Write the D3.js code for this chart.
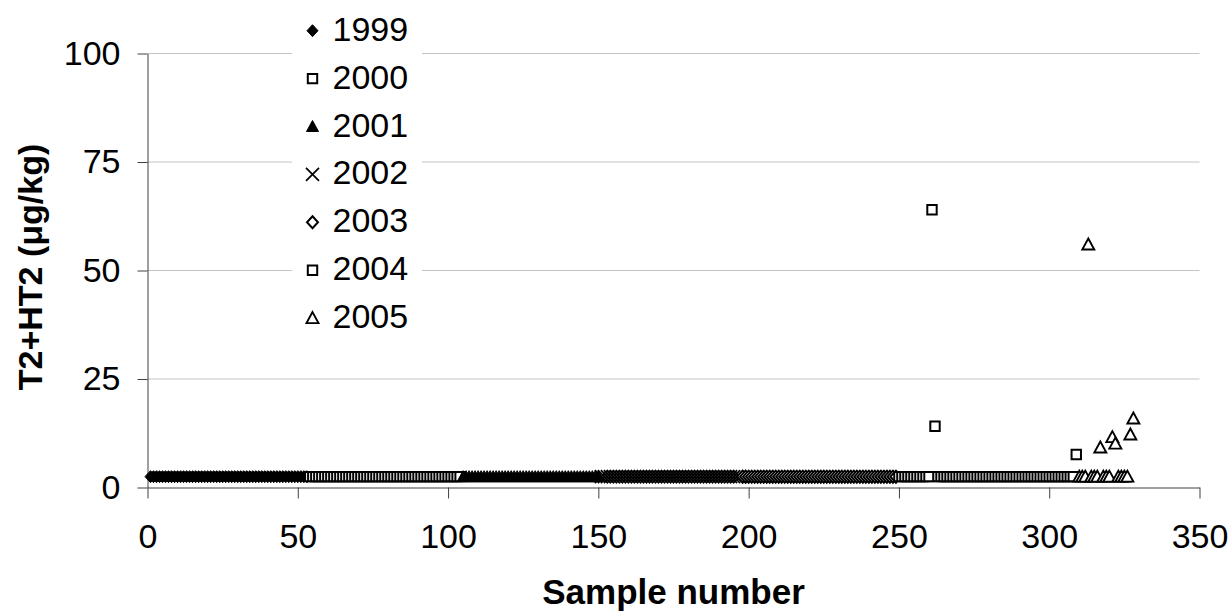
<!doctype html>
<html>
<head>
<meta charset="utf-8">
<title>T2+HT2 by sample</title>
<style>
  body { margin: 0; background: #fff; }
  text { font-family: "Liberation Sans", Arial, sans-serif; fill: #000; }
</style>
</head>
<body>
<div id="chart"></div>
<script src="https://cdn.jsdelivr.net/npm/d3@7"></script>
<script>
// data: one array per harvest year, first sample number of each year
var years = ["1999", "2000", "2001", "2002", "2003", "2004", "2005"];
var firstSample = [1, 54, 105, 151, 198, 250, 310];

var v1999 = [
  2.5, 2.5, 2.5, 2.5, 2.5, 2.5, 2.5, 2.5, 2.5, 2.5,
  2.5, 2.5, 2.5, 2.5, 2.5, 2.5, 2.5, 2.5, 2.5, 2.5,
  2.5, 2.5, 2.5, 2.5, 2.5, 2.5, 2.5, 2.5, 2.5, 2.5,
  2.5, 2.5, 2.5, 2.5, 2.5, 2.5, 2.5, 2.5, 2.5, 2.5,
  2.5, 2.5, 2.5, 2.5, 2.5, 2.5, 2.5, 2.5, 2.5, 2.5,
  2.5, 2.5, 2.5];
var v2000 = [
  2.5, 2.5, 2.5, 2.5, 2.5, 2.5, 2.5, 2.5, 2.5, 2.5,
  2.5, 2.5, 2.5, 2.5, 2.5, 2.5, 2.5, 2.5, 2.5, 2.5,
  2.5, 2.5, 2.5, 2.5, 2.5, 2.5, 2.5, 2.5, 2.5, 2.5,
  2.5, 2.5, 2.5, 2.5, 2.5, 2.5, 2.5, 2.5, 2.5, 2.5,
  2.5, 2.5, 2.5, 2.5, 2.5, 2.5, 2.5, 2.5, 2.5, 2.5,
  2.5];
var v2001 = [
  2.5, 2.5, 2.5, 2.5, 2.5, 2.5, 2.5, 2.5, 2.5, 2.5,
  2.5, 2.5, 2.5, 2.5, 2.5, 2.5, 2.5, 2.5, 2.5, 2.5,
  2.5, 2.5, 2.5, 2.5, 2.5, 2.5, 2.5, 2.5, 2.5, 2.5,
  2.5, 2.5, 2.5, 2.5, 2.5, 2.5, 2.5, 2.5, 2.5, 2.5,
  2.5, 2.5, 2.5, 2.5, 2.5, 2.5];
var v2002 = [
  2.5, 2.5, 2.5, 2.5, 2.5, 2.5, 2.5, 2.5, 2.5, 2.5,
  2.5, 2.5, 2.5, 2.5, 2.5, 2.5, 2.5, 2.5, 2.5, 2.5,
  2.5, 2.5, 2.5, 2.5, 2.5, 2.5, 2.5, 2.5, 2.5, 2.5,
  2.5, 2.5, 2.5, 2.5, 2.5, 2.5, 2.5, 2.5, 2.5, 2.5,
  2.5, 2.5, 2.5, 2.5, 2.5, 2.5, 2.5];
var v2003 = [
  2.5, 2.5, 2.5, 2.5, 2.5, 2.5, 2.5, 2.5, 2.5, 2.5,
  2.5, 2.5, 2.5, 2.5, 2.5, 2.5, 2.5, 2.5, 2.5, 2.5,
  2.5, 2.5, 2.5, 2.5, 2.5, 2.5, 2.5, 2.5, 2.5, 2.5,
  2.5, 2.5, 2.5, 2.5, 2.5, 2.5, 2.5, 2.5, 2.5, 2.5,
  2.5, 2.5, 2.5, 2.5, 2.5, 2.5, 2.5, 2.5, 2.5, 2.5,
  2.5, 2.5];
var v2004 = [
  2.5, 2.5, 2.5, 2.5, 2.5, 2.5, 2.5, 2.5, 2.5, 2.5,
  2.5, 64, 14.1, 2.5, 2.5, 2.5, 2.5, 2.5, 2.5, 2.5,
  2.5, 2.5, 2.5, 2.5, 2.5, 2.5, 2.5, 2.5, 2.5, 2.5,
  2.5, 2.5, 2.5, 2.5, 2.5, 2.5, 2.5, 2.5, 2.5, 2.5,
  2.5, 2.5, 2.5, 2.5, 2.5, 2.5, 2.5, 2.5, 2.5, 2.5,
  2.5, 2.5, 2.5, 2.5, 2.5, 2.5, 2.5, 2.5, 2.5, 7.6];
var v2005 = [
  2.5, 2.5, 2.5, 56, 2.5, 2.5, 2.5, 9.2, 2.5, 2.5,
  2.5, 11.6, 10.1, 2.5, 2.5, 2.5, 2.5, 12.2, 15.9];

var values = [v1999, v2000, v2001, v2002, v2003, v2004, v2005];

var xTicks = [0, 50, 100, 150, 200, 250, 300, 350];
var yTicks = [0, 25, 50, 75, 100];

// marker look per series (same order as years)
var markers = [
  {shape: "diamond",  fill: "#000", stroke: "#000", sw: 1},
  {shape: "square",   fill: "#fff", stroke: "#000", sw: 2},
  {shape: "triangle", fill: "#000", stroke: "#000", sw: 1},
  {shape: "x",        fill: "none", stroke: "#000", sw: 1.7},
  {shape: "diamond",  fill: "#fff", stroke: "#000", sw: 2},
  {shape: "square",   fill: "#fff", stroke: "#000", sw: 2},
  {shape: "triangle", fill: "#fff", stroke: "#000", sw: 1.9}
];

function markerPath(shape) {
  if (shape == "diamond") return "M0,-6L5.5,0L0,6L-5.5,0Z";
  if (shape == "square") return "M-4.7,-4.7H4.7V4.7H-4.7Z";
  if (shape == "triangle") return "M0,-6L6,5L-6,5Z";
  return "M-6.5,-6.5L6.5,6.5M6.5,-6.5L-6.5,6.5";
}

var w = 1231, h = 611;

var svg = d3.select("#chart").append("svg")
  .attr("width", w)
  .attr("height", h)
  .style("display", "block");

var x = d3.scaleLinear().domain([0, 350]).range([147.5, 1199.5]);
var y = d3.scaleLinear().domain([0, 100]).range([487.5, 53.5]);

// gridlines
svg.append("g")
  .selectAll("line")
  .data(yTicks.filter(function(d) { return d > 0; }))
  .enter().append("line")
  .attr("x1", x(0)).attr("x2", x(350))
  .attr("y1", function(d) { return y(d); })
  .attr("y2", function(d) { return y(d); })
  .attr("stroke", "#c4c4c4")
  .attr("stroke-width", 1);

// axes
var xAxis = svg.append("g")
  .attr("transform", "translate(0," + y(0) + ")")
  .call(d3.axisBottom(x).tickValues(xTicks).tickSize(11).tickSizeOuter(0).tickPadding(25));

var yAxis = svg.append("g")
  .attr("transform", "translate(" + x(0) + ",0)")
  .call(d3.axisLeft(y).tickValues(yTicks).tickSize(10).tickSizeOuter(0).tickPadding(17));

[xAxis, yAxis].forEach(function(a) {
  a.select(".domain").attr("stroke", "#404040");
  a.selectAll(".tick line").attr("stroke", "#404040");
  a.selectAll("text")
    .style("font-size", "34px")
    .style("font-family", '"Liberation Sans", Arial, sans-serif')
    .attr("fill", "#000");
});

// points
years.forEach(function(yr, k) {
  var m = markers[k];
  svg.append("g")
    .selectAll("path")
    .data(values[k])
    .enter().append("path")
    .attr("transform", function(d, i) {
      return "translate(" + x(firstSample[k] + i) + "," + y(d) + ")";
    })
    .attr("d", markerPath(m.shape))
    .attr("fill", m.fill)
    .attr("stroke", m.stroke)
    .attr("stroke-width", m.sw);
});

// legend
var legend = svg.append("g");
legend.append("rect")
  .attr("x", 292).attr("y", 4)
  .attr("width", 130).attr("height", 340)
  .attr("fill", "#fff");

var row = legend.selectAll("g.row")
  .data(years)
  .enter().append("g")
  .attr("class", "row")
  .attr("transform", function(d, i) { return "translate(312.5," + (30.7 + i * 47.9) + ")"; });

row.append("path")
  .attr("d", function(d, i) { return markerPath(markers[i].shape); })
  .attr("fill", function(d, i) { return markers[i].fill; })
  .attr("stroke", function(d, i) { return markers[i].stroke; })
  .attr("stroke-width", function(d, i) { return markers[i].sw; });

row.append("text")
  .attr("x", 20)
  .attr("y", 10)
  .style("font-size", "34px")
  .text(function(d) { return d; });

// axis titles
svg.append("text")
  .attr("transform", "translate(42,267) rotate(-90)")
  .attr("text-anchor", "middle")
  .style("font-size", "34px")
  .style("font-weight", "bold")
  .text("T2+HT2 (\u03bcg/kg)");

svg.append("text")
  .attr("x", (x(0) + x(350)) / 2)
  .attr("y", 604)
  .attr("text-anchor", "middle")
  .style("font-size", "35px")
  .style("font-weight", "bold")
  .text("Sample number");
</script>
</body>
</html>
